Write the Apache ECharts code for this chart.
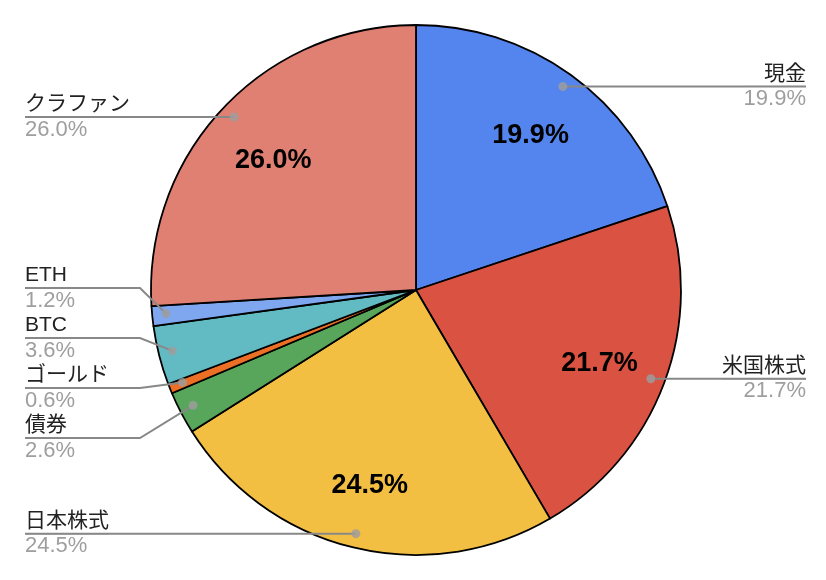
<!DOCTYPE html>
<html>
<head>
<meta charset="utf-8">
<script src="https://cdn.jsdelivr.net/npm/echarts@6/dist/echarts.min.js"></script>
<style>
html, body { margin: 0; padding: 0; background: #fff; }
#main { width: 826px; height: 580px; }
</style>
</head>
<body>
<div id="main"></div>
<script>
// 資産配分 (%)
var names = ['現金', '米国株式', '日本株式', '債券', 'ゴールド', 'BTC', 'ETH', 'クラファン'];
var values = [19.9, 21.7, 24.5, 2.6, 0.6, 3.6, 1.2, 26.0];
var colors = ['#5484ED', '#DA5241', '#F2BF42', '#57A65B', '#EC6F26', '#62BBC2', '#7EA7F0', '#E08073'];

var myChart = echarts.init(document.getElementById('main'));

var cx = 416, cy = 290, R = 265;
var dotR = 251;              // 引き出し線の始点(点)の半径
var edgeLeft = 25, edgeRight = 806;
var labelH = 50;             // 外側ラベル1個分の高さ
var font = '"Liberation Sans", Arial, "Noto Sans CJK JP", sans-serif';

var pieData = [];
var labelData = [];
var dotData = [];
var dots = [];
var acc = 0;
for (var i = 0; i < names.length; i++) {
    pieData.push({ name: names[i], value: values[i], itemStyle: { color: colors[i] } });
    labelData.push({ name: names[i], value: values[i] });
    var mid = acc + values[i] / 2;
    dotData.push([dotR, mid]);
    var th = mid / 100 * Math.PI * 2;
    dots.push({ i: i, x: cx + dotR * Math.sin(th), y: cy - dotR * Math.cos(th) });
    acc += values[i];
}

// 外側ラベルの縦位置：重なるものはまとめて中心に寄せる
var labelY = [];
function placeSide(list) {
    list.sort(function (a, b) { return a.y - b.y; });
    var groups = list.map(function (d) { return { items: [d], sum: d.y }; });
    var merged = true;
    while (merged) {
        merged = false;
        for (var g = 0; g < groups.length - 1; g++) {
            var a = groups[g], b = groups[g + 1];
            var aBottom = a.sum / a.items.length + a.items.length * labelH / 2;
            var bTop = b.sum / b.items.length - b.items.length * labelH / 2;
            if (aBottom > bTop) {
                groups.splice(g, 2, { items: a.items.concat(b.items), sum: a.sum + b.sum });
                merged = true;
                break;
            }
        }
    }
    groups.forEach(function (gr) {
        var n = gr.items.length;
        var top = gr.sum / n - n * labelH / 2;
        gr.items.forEach(function (d, k) {
            labelY[d.i] = top + labelH * (k + 0.5);
        });
    });
}
placeSide(dots.filter(function (d) { return d.x < cx; }));
placeSide(dots.filter(function (d) { return d.x >= cx; }));

var option = {
    animation: false,
    backgroundColor: '#fff',
    polar: { center: [cx, cy], radius: R },
    angleAxis: { min: 0, max: 100, startAngle: 90, clockwise: true, show: false },
    radiusAxis: { min: 0, max: R, show: false },
    series: [
        {
            // 本体
            type: 'pie',
            center: [cx, cy],
            radius: [0, R],
            startAngle: 90,
            clockwise: true,
            data: pieData,
            label: { show: false },
            labelLine: { show: false },
            itemStyle: { borderColor: '#000', borderWidth: 1.8 },
            z: 1
        },
        {
            // 中の大きい数字
            type: 'pie',
            center: [cx, cy],
            radius: [121, R],
            startAngle: 90,
            clockwise: true,
            data: labelData,
            silent: true,
            itemStyle: { color: 'rgba(0,0,0,0)' },
            label: {
                show: true,
                position: 'inside',
                offset: [0, 5],
                fontFamily: font,
                fontSize: 27,
                fontWeight: 'bold',
                color: '#000',
                formatter: function (p) {
                    return p.value >= 10 ? p.value.toFixed(1) + '%' : '';
                }
            },
            labelLine: { show: false },
            z: 3
        },
        {
            // 外側のラベル
            type: 'pie',
            center: [cx, cy],
            radius: [0, dotR],
            startAngle: 90,
            clockwise: true,
            data: labelData,
            silent: true,
            itemStyle: { color: 'rgba(0,0,0,0)' },
            label: {
                show: true,
                position: 'outside',
                alignTo: 'edge',
                edgeDistance: 22,
                distanceToLabelLine: 0,
                fontFamily: font,
                formatter: function (p) {
                    return '{n|' + p.name + '}\n{hr|}\n{p|' + p.value.toFixed(1) + '%}';
                },
                rich: {
                    n: { fontSize: 21, color: '#222', lineHeight: 25, fontFamily: font },
                    hr: { width: '100%', height: 0, borderWidth: 1, borderColor: '#888' },
                    p: { fontSize: 22, color: '#9e9e9e', lineHeight: 25, fontFamily: font }
                }
            },
            labelLine: {
                show: true,
                length: 10,
                length2: 10,
                lineStyle: { color: '#888', width: 2 }
            },
            labelLayout: function (params) {
                var i = params.dataIndex;
                var d = dots[i];
                var y = labelY[i];
                var left = d.x < cx;
                var ex = left ? edgeLeft : edgeRight;
                var bx = left ? Math.min(d.x, cx - R - 11) : Math.max(d.x, cx + R + 11);
                return {
                    x: ex,
                    y: y,
                    align: left ? 'left' : 'right',
                    verticalAlign: 'middle',
                    labelLinePoints: [[d.x, d.y], [bx, y], [ex, y]]
                };
            },
            z: 4
        },
        {
            type: 'scatter',
            coordinateSystem: 'polar',
            data: dotData,
            symbolSize: 9,
            itemStyle: { color: '#9e9e9e' },
            silent: true,
            z: 5
        }
    ]
};

myChart.setOption(option);
</script>
</body>
</html>
